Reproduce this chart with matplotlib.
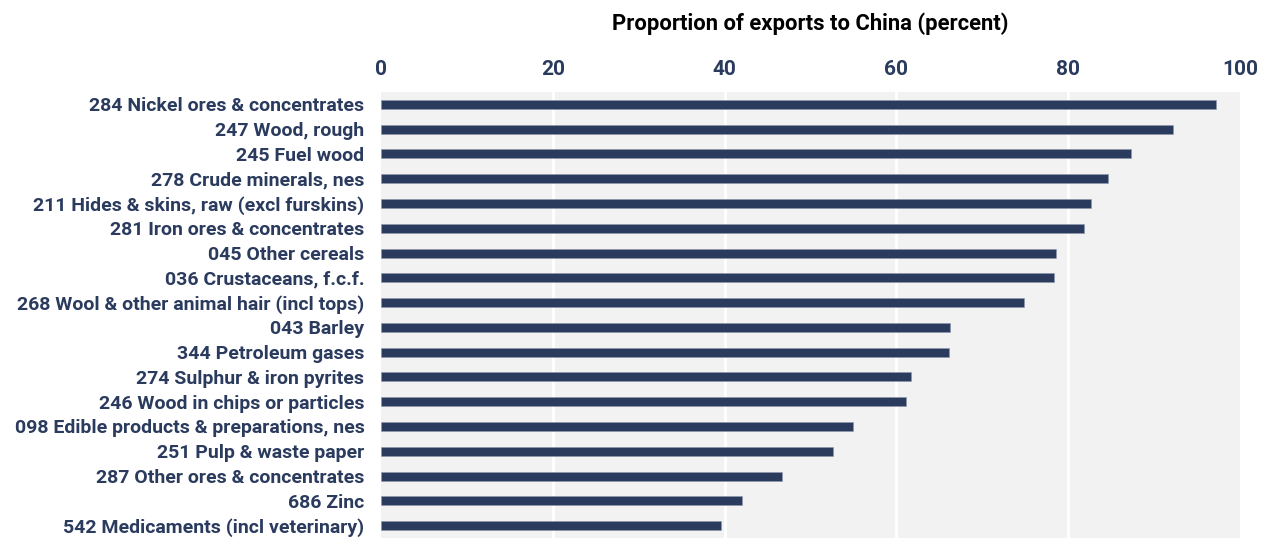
import matplotlib.pyplot as plt
import numpy as np

categories = [
    "284 Nickel ores & concentrates",
    "247 Wood, rough",
    "245 Fuel wood",
    "278 Crude minerals, nes",
    "211 Hides & skins, raw (excl furskins)",
    "281 Iron ores & concentrates",
    "045 Other cereals",
    "036 Crustaceans, f.c.f.",
    "268 Wool & other animal hair (incl tops)",
    "043 Barley",
    "344 Petroleum gases",
    "274 Sulphur & iron pyrites",
    "246 Wood in chips or particles",
    "098 Edible products & preparations, nes",
    "251 Pulp & waste paper",
    "287 Other ores & concentrates",
    "686 Zinc",
    "542 Medicaments (incl veterinary)",
]
values = [97.2, 92.2, 87.3, 84.6, 82.7, 81.8, 78.6, 78.3, 74.8,
          66.2, 66.1, 61.7, 61.1, 54.9, 52.6, 46.7, 42.0, 39.6]
xticks = [0, 20, 40, 60, 80, 100]

navy = "#2b3b5e"
plt.rcParams['font.family'] = ['Roboto', 'DejaVu Sans']

fig = plt.figure(figsize=(12.71, 5.38), dpi=100)
ax = fig.add_axes([0.2998, 0.0, 0.6758, 0.829])
ax.set_facecolor("#f2f2f2")

y = np.arange(len(categories))
ax.barh(y, values, height=0.36, color=navy, edgecolor="#8e97ab", linewidth=0.4, zorder=3)
for v in xticks[1:-1]:
    ax.axvline(v, color="white", linewidth=2, zorder=2)

ax.set_xlim(0, 100)
ax.set_ylim(len(categories) - 0.5, -0.5)
ax.set_yticks(y)
ax.set_yticklabels(categories, fontsize=14, fontweight="bold", color=navy)
ax.set_xticks(xticks)
ax.set_xticklabels([str(t) for t in xticks], fontsize=15, fontweight="bold", color=navy)
ax.xaxis.tick_top()
ax.xaxis.set_label_position("top")
ax.set_xlabel("Proportion of exports to China (percent)", fontsize=15.8, fontweight="bold",
              color="black", labelpad=22)
ax.tick_params(axis="x", length=0, pad=9)
ax.tick_params(axis="y", length=0, pad=12)
for s in ax.spines.values():
    s.set_visible(False)

fig.savefig("out.png", dpi=100)
